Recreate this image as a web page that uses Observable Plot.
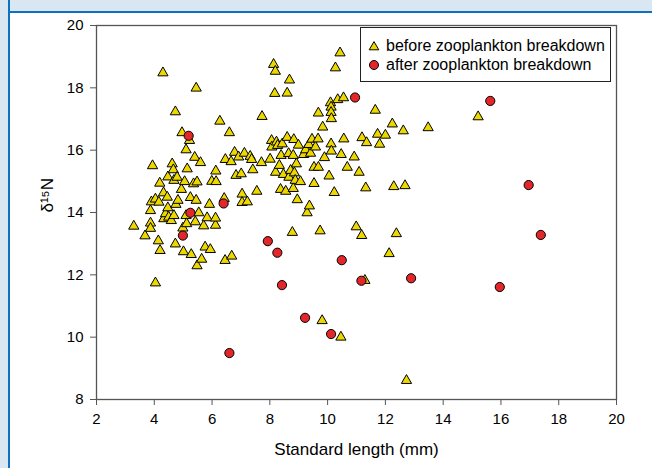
<!DOCTYPE html>
<html>
<head>
<meta charset="utf-8">
<script src="https://cdn.jsdelivr.net/npm/d3@7"></script>
<script src="https://cdn.jsdelivr.net/npm/@observablehq/plot@0.6"></script>
<style>
  html { margin: 0; padding: 0; overflow: hidden; background: linear-gradient(to right, #d9e7f2 0, #d9e7f2 8px, #1170bd 8px, #1170bd 10px, transparent 10px), linear-gradient(to bottom, #d9e7f2 0, #d9e7f2 11px, #1170bd 11px, #1170bd 13px, #fff 13px); }
  body { margin: 0; padding: 0; position: relative; width: 652px; height: 468px; font-family: "Liberation Sans", Arial, sans-serif; }
  #chart { position: absolute; left: 0; top: 0; }
  #legend { position: absolute; left: 360px; top: 27px; width: 251px; height: 55px; border: 1px solid #222; background: #fff; box-sizing: border-box; }
  .row { position: absolute; left: 0; height: 18px; display: flex; align-items: center; font-size: 16px; color: #000; white-space: nowrap; }
  .row svg { margin-left: 7px; margin-right: 6px; }
</style>
</head>
<body>
<div id="chart"></div>
<div id="legend">
  <div class="row" style="top:9px"><svg width="12" height="12" viewBox="-6 -6 12 12"><polygon points="0,-4.4 4.8,3.8 -4.8,3.8" fill="#ecd800" stroke="#000" stroke-width="1"/></svg><span>before zooplankton breakdown</span></div>
  <div class="row" style="top:28px"><svg width="12" height="12" viewBox="-6 -6 12 12"><circle r="4.5" fill="#e3262a" stroke="#000" stroke-width="1"/></svg><span>after zooplankton breakdown</span></div>
</div>
<script>
const seriesNames = ["before zooplankton breakdown", "after zooplankton breakdown"];
const xTicks = [2, 4, 6, 8, 10, 12, 14, 16, 18, 20];
const yTicks = [8, 10, 12, 14, 16, 18, 20];
const xLabel = "Standard length (mm)";
const yLabel = "δ¹⁵N";

const beforeX = [3.29,3.68,3.87,3.87,3.87,3.9,3.94,4.04,4.04,4.14,4.2,4.16,4.19,4.3,4.32,4.33,4.39,4.45,4.47,4.47,4.5,4.59,4.62,4.66,4.68,4.68,4.73,4.73,4.75,4.79,4.82,4.94,4.96,4.99,5.01,5.05,5.1,5.1,5.14,5.12,5.22,5.25,5.28,5.36,5.4,5.42,5.45,5.45,5.48,5.48,5.54,5.6,5.64,5.71,5.76,5.83,5.91,5.94,5.99,6.12,6.12,6.13,6.14,6.27,6.42,6.45,6.46,6.6,6.66,6.68,6.78,6.83,6.92,7.01,7.04,7.04,7.12,7.22,7.32,7.37,7.41,7.55,7.73,7.71,8.01,8.06,8.07,8.13,8.19,8.17,8.2,8.23,8.27,8.33,8.37,8.39,8.43,8.47,8.55,8.6,8.6,8.65,8.66,8.68,8.72,8.78,8.81,8.81,8.83,8.85,8.88,8.92,8.95,8.99,9.06,9.17,9.24,9.29,9.35,9.37,9.41,9.46,9.53,9.53,9.58,9.68,9.68,9.67,9.74,9.81,9.83,9.89,10.05,10.1,10.12,10.12,10.13,10.12,10.13,10.23,10.27,10.35,10.43,10.46,10.47,10.55,10.56,10.68,10.92,10.99,11.09,11.18,11.19,11.29,11.32,11.35,11.65,11.73,11.8,12.0,12.13,12.24,12.29,12.38,12.62,12.68,12.73,13.48,15.21];
const beforeY = [13.56,13.25,13.66,13.49,14.06,14.34,15.5,11.74,14.43,13.09,12.78,14.33,14.94,18.48,14.63,13.8,13.96,14.49,14.15,15.14,13.85,13.74,15.56,15.37,15.03,13.9,17.23,12.99,14.26,15.13,14.39,14.74,16.56,13.5,12.74,14.99,16.01,13.9,15.4,13.64,16.31,14.48,12.65,14.92,15.77,13.7,17.99,14.39,14.98,12.29,13.99,15.6,12.5,13.57,12.89,13.83,14.26,12.81,15.0,13.59,13.82,15.33,14.99,16.93,14.45,12.46,15.7,16.56,15.63,12.6,15.93,15.19,15.78,15.24,14.59,14.32,15.9,14.34,15.8,15.7,15.37,14.68,17.08,15.6,15.71,16.31,16.1,18.75,18.53,17.82,15.29,16.26,16.15,15.51,14.74,15.83,16.2,15.22,14.68,17.83,16.41,15.89,15.13,18.25,15.35,13.36,14.77,15.83,16.34,15.27,15.03,15.56,14.41,16.16,14.99,15.86,16.01,13.99,16.18,14.21,15.9,16.35,14.93,15.45,16.1,17.19,15.45,16.36,13.41,10.53,16.74,15.76,15.17,17.52,17.38,17.21,17.01,16.2,15.97,14.64,18.64,17.62,19.12,10.0,15.86,17.68,16.36,15.45,15.78,13.54,15.29,13.26,16.4,11.82,14.79,16.24,17.28,16.51,16.19,16.48,12.68,16.84,14.83,13.32,16.62,14.86,8.61,16.72,17.07];

const afterX = [5.19,5.25,4.99,6.4,6.6,7.93,8.26,8.42,9.22,10.12,10.49,10.95,11.17,12.89,15.63,15.96,16.96,17.38];
const afterY = [16.46,13.99,13.26,14.29,9.49,13.08,12.71,11.67,10.62,10.1,12.47,17.69,11.81,11.89,17.58,11.61,14.88,13.28];

const before = beforeX.map((x, i) => ({x, y: beforeY[i], series: seriesNames[0]}));
const after = afterX.map((x, i) => ({x, y: afterY[i], series: seriesNames[1]}));

const chart = Plot.plot({
  width: 652,
  height: 468,
  marginLeft: 96,
  marginRight: 36,
  marginTop: 25,
  marginBottom: 69,
  style: { background: "transparent", fontFamily: "'Liberation Sans', Arial, sans-serif", color: "#000" },
  x: { domain: [2, 20] },
  y: { domain: [8, 20] },
  marks: [
    Plot.axisX({ ticks: xTicks, tickSize: 6, tickPadding: 8, stroke: "#555", fill: "#000", fontSize: 15, label: null }),
    Plot.axisY({ ticks: yTicks, tickSize: 6, tickPadding: 7, stroke: "#555", fill: "#000", fontSize: 15, label: null }),
    Plot.frame({ stroke: "#555", strokeWidth: 1.3 }),
    Plot.dot(before, { x: "x", y: "y", symbol: "triangle", r: 3.8, fill: "#ecd800", stroke: "#000", strokeWidth: 1 }),
    Plot.dot(after, { x: "x", y: "y", symbol: "circle", r: 4.6, fill: "#e3262a", stroke: "#000", strokeWidth: 1 }),
    Plot.text([xLabel], { text: d => d, frameAnchor: "bottom", dy: 55, fontSize: 17, fill: "#000" }),
    Plot.text([yLabel], { text: d => d, frameAnchor: "left", dx: -49, rotate: -90, fontSize: 17, fill: "#000" })
  ]
});
document.getElementById("chart").appendChild(chart);
</script>
</body>
</html>
